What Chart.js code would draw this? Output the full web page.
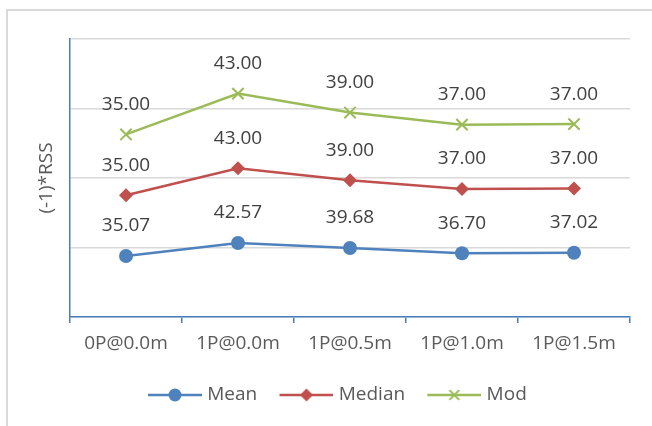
<!DOCTYPE html>
<html>
<head>
<meta charset="utf-8">
<script src="https://cdn.jsdelivr.net/npm/chart.js@4/dist/chart.umd.min.js"></script>
<style>
  html, body { margin: 0; padding: 0; background: #ffffff; }
  #wrap { width: 652px; height: 426px; position: relative; }
</style>
</head>
<body>
<div id="wrap"><canvas id="chart" width="652" height="426"></canvas></div>
<script>
// Categories along the x axis
const categories = ['0P@0.0m', '1P@0.0m', '1P@0.5m', '1P@1.0m', '1P@1.5m'];

// Series values (stacked on the y axis)
const meanValues   = [35.07, 42.57, 39.68, 36.70, 37.02];
const medianValues = [35.00, 43.00, 39.00, 37.00, 37.00];
const modValues    = [35.00, 43.00, 39.00, 37.00, 37.00];

const seriesNames = ['Mean', 'Median', 'Mod'];

// Y scale settings
const yMin = 0, yMax = 160, yStep = 40;

const COLORS = { mean: '#4f81bd', median: '#c0504d', mod: '#9bbb59' };
const AXIS_BLUE = '#4a7ebb';
const TEXT_DARK = '#404040';
const TEXT_GRAY = '#595959';
const FONT = "'Open Sans', 'Liberation Sans', sans-serif";
const FONT_SIZE = 19;

// Legend swatch: a short line with the series marker in the middle.
// The line sits in the right part of the image so it ends just before the label text.
function legendSwatch(color, style) {
  const c = document.createElement('canvas');
  c.width = 68; c.height = 16;
  const g = c.getContext('2d');
  const x0 = 14, len = 54;
  g.strokeStyle = color; g.fillStyle = color; g.lineWidth = 2.5;
  g.beginPath(); g.moveTo(x0, 8); g.lineTo(x0 + len, 8); g.stroke();
  const cx = x0 + len / 2, cy = 8, r = 6.5;
  if (style === 'circle') {
    g.beginPath(); g.arc(cx, cy, r, 0, Math.PI * 2); g.fill();
  } else if (style === 'rectRot') {
    g.beginPath(); g.moveTo(cx, cy - r); g.lineTo(cx + r, cy); g.lineTo(cx, cy + r); g.lineTo(cx - r, cy); g.closePath(); g.fill();
  } else {
    g.lineWidth = 2;
    const d = r * 0.75;
    g.beginPath(); g.moveTo(cx - d, cy - d); g.lineTo(cx + d, cy + d);
    g.moveTo(cx + d, cy - d); g.lineTo(cx - d, cy + d); g.stroke();
  }
  return c;
}

// Outer frame of the chart
const framePlugin = {
  id: 'frame',
  beforeDraw(chart) {
    const ctx = chart.ctx;
    ctx.save();
    ctx.fillStyle = '#ffffff';
    ctx.fillRect(0, 0, chart.width, chart.height);
    ctx.strokeStyle = '#d9d9d9';
    ctx.lineWidth = 2;
    ctx.strokeRect(7, 10, chart.width + 20, chart.height + 20);
    ctx.restore();
  }
};

// Value labels above each point (raw, unstacked values)
const valueLabelPlugin = {
  id: 'valueLabels',
  afterDatasetsDraw(chart) {
    const ctx = chart.ctx;
    ctx.save();
    ctx.font = FONT_SIZE + 'px ' + FONT;
    ctx.fillStyle = TEXT_DARK;
    ctx.textAlign = 'center';
    ctx.textBaseline = 'middle';
    chart.data.datasets.forEach((ds, i) => {
      const meta = chart.getDatasetMeta(i);
      meta.data.forEach((pt, j) => {
        ctx.fillText(ds.data[j].toFixed(2), pt.x, pt.y - 30);
      });
    });
    ctx.restore();
  }
};

const ctx = document.getElementById('chart').getContext('2d');
new Chart(ctx, {
  type: 'line',
  data: {
    labels: categories,
    datasets: [
      { label: seriesNames[0], data: meanValues, borderColor: COLORS.mean, backgroundColor: COLORS.mean,
        pointStyle: 'circle', pointRadius: 7, borderWidth: 2.5, pointBorderWidth: 0 },
      { label: seriesNames[1], data: medianValues, borderColor: COLORS.median, backgroundColor: COLORS.median,
        pointStyle: 'rectRot', pointRadius: 7, borderWidth: 2.5, pointBorderWidth: 0 },
      { label: seriesNames[2], data: modValues, borderColor: COLORS.mod, backgroundColor: COLORS.mod,
        pointStyle: 'crossRot', pointRadius: 8, borderWidth: 2.5, pointBorderWidth: 2 }
    ]
  },
  options: {
    responsive: false,
    animation: false,
    layout: { padding: { left: 35, right: 22, top: 39, bottom: 11.5 } },
    scales: {
      x: {
        offset: true,
        grid: { offset: true, drawOnChartArea: false, drawTicks: true, tickLength: 6, color: AXIS_BLUE, lineWidth: 1.5 },
        border: { color: AXIS_BLUE, width: 1.5 },
        ticks: { color: TEXT_GRAY, font: { family: FONT, size: FONT_SIZE }, padding: 9, maxRotation: 0 },
        afterFit(scale) { scale.height = 56; }
      },
      y: {
        stacked: true,
        min: yMin, max: yMax,
        grid: { color: '#d9d9d9', lineWidth: 1.5, drawTicks: false },
        border: { color: AXIS_BLUE, width: 1.5 },
        ticks: { display: false, stepSize: yStep },
        title: { display: true, text: '(-1)*RSS', color: TEXT_GRAY, font: { family: FONT, size: FONT_SIZE }, padding: { top: 0.6, bottom: 0 } },
        afterFit(scale) { scale.width = 35; }
      }
    },
    plugins: {
      legend: {
        position: 'bottom',
        labels: {
          usePointStyle: true,
          pointStyleWidth: 59.5,
          padding: 12.5,
          color: TEXT_GRAY,
          font: { family: FONT, size: FONT_SIZE },
          generateLabels(chart) {
            const styles = ['circle', 'rectRot', 'crossRot'];
            return chart.data.datasets.map((ds, i) => ({
              text: ds.label,
              datasetIndex: i,
              fontColor: TEXT_GRAY,
              pointStyle: legendSwatch(ds.borderColor, styles[i]),
              hidden: false,
              lineWidth: 0
            }));
          }
        }
      },
      tooltip: { enabled: false }
    }
  },
  plugins: [framePlugin, valueLabelPlugin]
});
</script>
</body>
</html>
